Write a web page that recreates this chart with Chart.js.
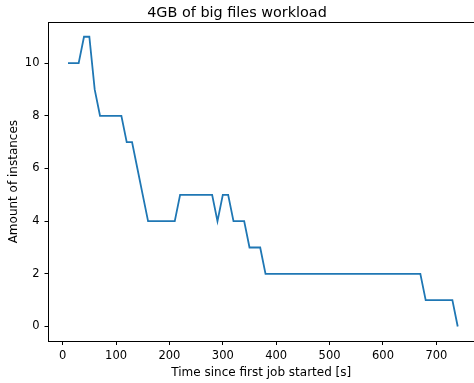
<!DOCTYPE html>
<html>
<head>
<meta charset="utf-8">
<script src="https://cdn.jsdelivr.net/npm/chart.js@4/dist/chart.umd.min.js"></script>
<style>
  html, body { margin: 0; padding: 0; background: #fff; overflow: hidden; }
  #wrap { width: 474px; height: 383px; }
</style>
</head>
<body>
<div id="wrap"><canvas id="chart" width="474" height="383"></canvas></div>
<script>
// time since first job started [s] and number of instances at that time
var times = [10, 30, 40, 50, 60, 70, 110, 120, 130, 140, 150, 160, 210, 220, 280, 290, 300, 310, 320, 340, 350, 370, 380, 670, 680, 730, 740];
var instances = [10, 10, 11, 11, 9, 8, 8, 7, 7, 6, 5, 4, 4, 5, 5, 4, 5, 5, 4, 4, 3, 3, 2, 2, 1, 1, 0];

var xTicks = [0, 100, 200, 300, 400, 500, 600, 700];
var yTicks = [0, 2, 4, 6, 8, 10];

var points = [];
for (var i = 0; i < times.length; i++) {
    points.push({x: times[i], y: instances[i]});
}

// matplotlib style top spine (right one is cropped away)
var topSpine = {
    id: 'topSpine',
    afterDraw: function(chart) {
        var a = chart.chartArea;
        var ctx = chart.ctx;
        ctx.save();
        ctx.strokeStyle = '#000';
        ctx.lineWidth = 1;
        ctx.beginPath();
        ctx.moveTo(a.left, Math.round(a.top) + 0.5);
        ctx.lineTo(a.right, Math.round(a.top) + 0.5);
        ctx.stroke();
        ctx.restore();
    }
};

var tickFont = {family: 'DejaVu Sans', size: 11.5};
var labelFont = {family: 'DejaVu Sans', size: 12};

var ctx = document.getElementById('chart').getContext('2d');
var chart = new Chart(ctx, {
    type: 'line',
    data: {
        datasets: [{
            data: points,
            borderColor: '#1f77b4',
            borderWidth: 1.8,
            pointRadius: 0,
            tension: 0,
            fill: false
        }]
    },
    options: {
        responsive: false,
        animation: false,
        layout: {padding: 0},
        plugins: {
            legend: {display: false},
            tooltip: {enabled: false},
            title: {
                display: true,
                text: '4GB of big files workload',
                color: '#000',
                font: {family: 'DejaVu Sans', size: 14.4, weight: 'normal'},
                padding: {top: 4.5, bottom: 0.5}
            }
        },
        scales: {
            x: {
                type: 'linear',
                min: -26.5,
                max: 770.5,
                afterBuildTicks: function(s) { s.ticks = xTicks.map(function(v) { return {value: v}; }); },
                afterFit: function(s) { s.height = 42; },
                grid: {drawOnChartArea: false, drawTicks: true, tickLength: 4, color: '#000'},
                border: {display: true, color: '#000', width: 1},
                ticks: {color: '#000', font: tickFont, padding: 4, maxRotation: 0},
                title: {display: true, text: 'Time since first job started [s]', color: '#000', font: labelFont, padding: {top: 0, bottom: 3}}
            },
            y: {
                type: 'linear',
                min: -0.55,
                max: 11.55,
                afterBuildTicks: function(s) { s.ticks = yTicks.map(function(v) { return {value: v}; }); },
                afterFit: function(s) { s.width = 48.5; },
                grid: {drawOnChartArea: false, drawTicks: true, tickLength: 4, color: '#000'},
                border: {display: true, color: '#000', width: 1},
                ticks: {color: '#000', font: tickFont, padding: 5},
                title: {display: true, text: 'Amount of instances', color: '#000', font: labelFont, padding: {top: 7, bottom: 0}}
            }
        }
    },
    plugins: [topSpine]
});
</script>
</body>
</html>
